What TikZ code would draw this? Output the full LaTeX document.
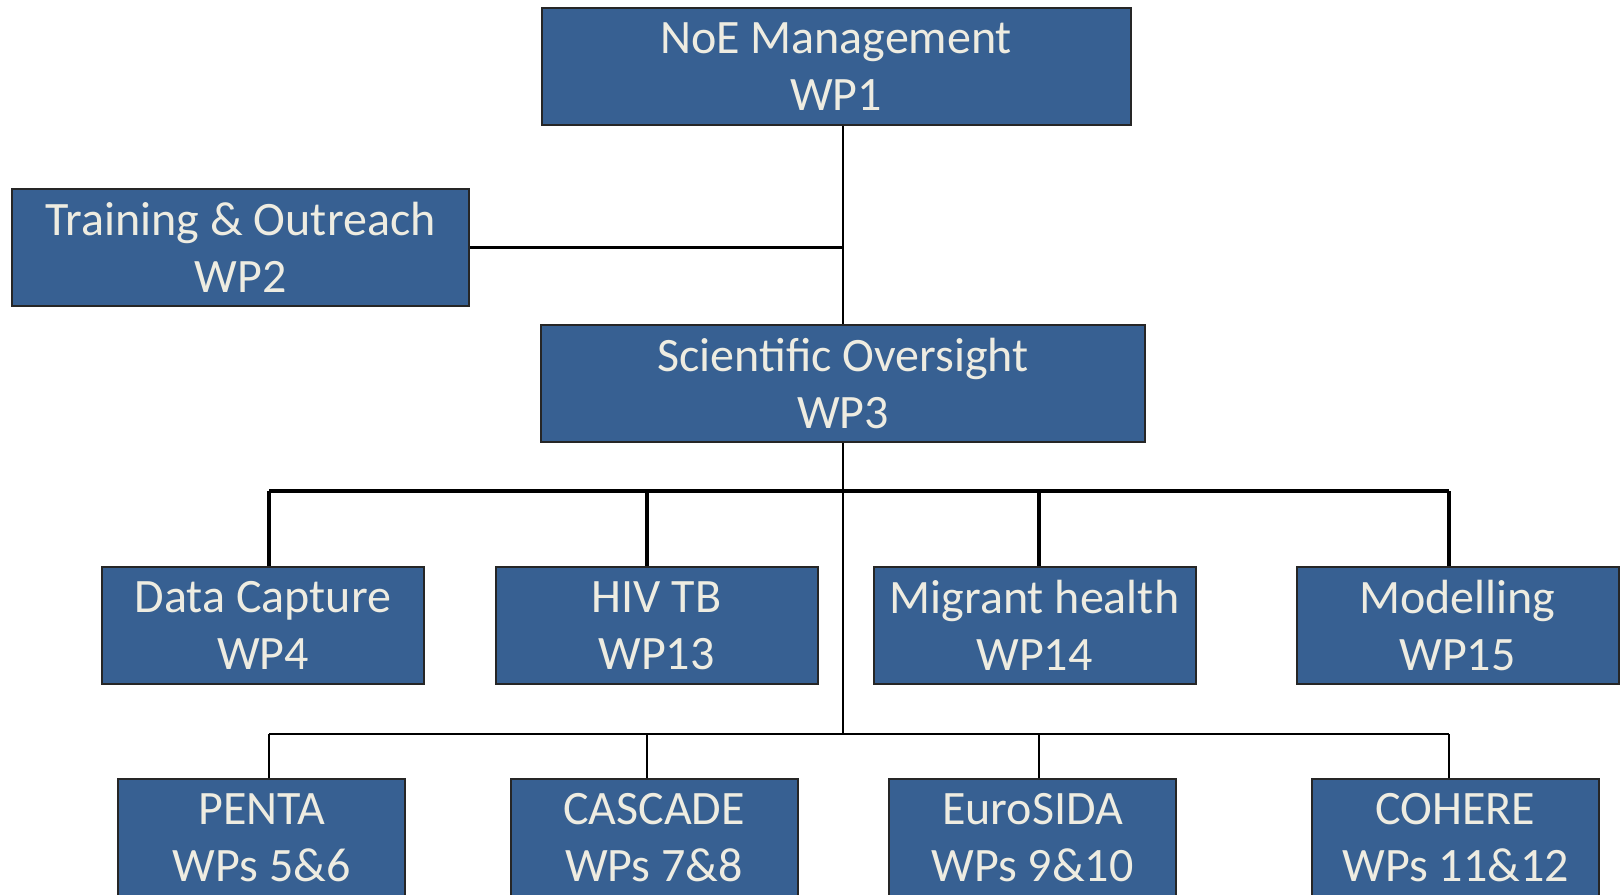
\documentclass[tikz,border=0pt]{standalone}
\usepackage{fontspec}
\setmainfont{Carlito}
\definecolor{wpblue}{RGB}{55,96,146}
\definecolor{wptext}{RGB}{238,236,225}

\begin{document}
\begin{tikzpicture}[x=0.5pt,y=-0.5pt,
    wp/.style ={rectangle, draw=black!85, line width=1pt, fill=wpblue, text=wptext, align=center,
      inner sep=0pt, minimum height=58.5pt, font=\fontsize{24}{28.4}\selectfont},
    topwp/.style ={wp, minimum width=161pt},
    lowwp/.style ={wp, minimum width=143.5pt}]
   \useasboundingbox (0,0) rectangle (1620,894);
   \node[wp, minimum width=294.5pt] (wp1) at (836,66.5) {NoE Management\\WP1};
   \node[wp, minimum width=228.5pt] (wp2) at (240.5,247.5) {Training \& Outreach\\WP2};
   \node[wp, minimum width=302pt] (wp3) at (843,383.5) {Scientific Oversight\\WP3};
   \node[topwp] (wp4)  at (263,625.5)    {Data Capture\\WP4};
   \node[topwp] (wp13) at (656.5,625.5)  {HIV TB\\WP13};
   \node[topwp] (wp14) at (1034.5,625.5) {Migrant health\\WP14};
   \node[topwp] (wp15) at (1457.5,625.5) {Modelling\\WP15};
   \node[lowwp] (penta)   at (261.5,837.5)  {PENTA\\WPs 5\&6};
   \node[lowwp] (cascade) at (654,837.5)    {CASCADE\\WPs 7\&8};
   \node[lowwp] (eurosida) at (1032.5,837.5) {EuroSIDA\\WPs 9\&10};
   \node[lowwp] (cohere)  at (1455.5,837.5)  {COHERE\\WPs 11\&12};
   \coordinate (j1) at (269,491);
   \coordinate (j2) at (647,491);
   \coordinate (j3) at (1039,491);
   \coordinate (j4) at (1449,491);
   \coordinate (k1) at (269,734);
   \coordinate (k2) at (647,734);
   \coordinate (k3) at (1039,734);
   \coordinate (k4) at (1449,734);
   \draw[line width=0.8pt] (wp3.north |- wp1.south) to (wp3.north);
   \draw[line width=1.5pt] (wp2.east) to (wp2.east -| wp3.north);
   \draw[line width=0.8pt] (wp3.south) to (wp3.south |- k1);
   \draw[line width=1.7pt] (j1) to (j4);
   \draw[line width=1pt] (k1) to (k4);
   \draw[line width=1.6pt] (j1) to (j1 |- wp4.north);
   \draw[line width=1.6pt] (j2) to (j2 |- wp13.north);
   \draw[line width=1.6pt] (j3) to (j3 |- wp14.north);
   \draw[line width=1.6pt] (j4) to (j4 |- wp15.north);
   \draw[line width=1.4pt] (k1) to (k1 |- penta.north);
   \draw[line width=1.4pt] (k2) to (k2 |- cascade.north);
   \draw[line width=1.4pt] (k3) to (k3 |- eurosida.north);
   \draw[line width=1.4pt] (k4) to (k4 |- cohere.north);
 \end{tikzpicture}
\end{document}
